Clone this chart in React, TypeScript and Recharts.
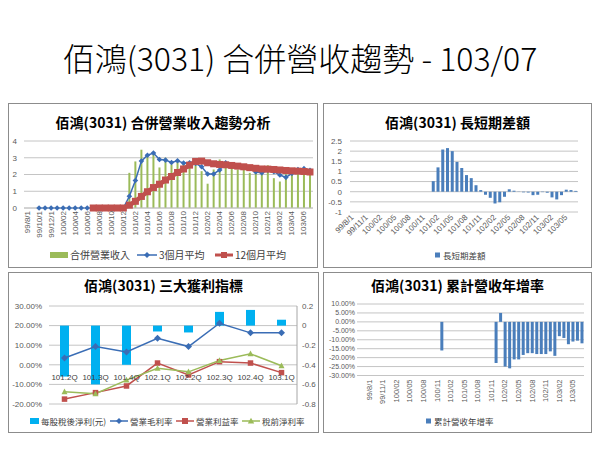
import React from "react";
import {
  ComposedChart,
  BarChart,
  Bar,
  Line,
  XAxis,
  YAxis,
  CartesianGrid,
} from "recharts";

const FONT = "'Noto Sans CJK TC', 'Noto Sans', sans-serif";
const TICK_FONT = "'Liberation Sans', 'Noto Sans CJK TC', sans-serif";

// months 99/08 .. 103/07
const months = [
  "99/8/1", "99/9/1", "99/10/1", "99/11/1", "99/12/1",
  "100/01", "100/02", "100/03", "100/04", "100/05", "100/06",
  "100/07", "100/08", "100/09", "100/10", "100/11", "100/12",
  "101/01", "101/02", "101/03", "101/04", "101/05", "101/06",
  "101/07", "101/08", "101/09", "101/10", "101/11", "101/12",
  "102/01", "102/02", "102/03", "102/04", "102/05", "102/06",
  "102/07", "102/08", "102/09", "102/10", "102/11", "102/12",
  "103/01", "103/02", "103/03", "103/04", "103/05", "103/06", "103/07",
];

// 合併營業收入 (億)
const revenue = [
  null, null, null, null, null,
  null, null, null, null, null, null,
  null, null, null, null, null, null,
  2.1, 2.78, 3.48, 3.15, 3.2, 2.42, 3.0, 2.6, 2.75, 2.65, 2.7, 2.6,
  2.2, 1.45, 2.3, 2.9, 2.72, 2.4, 2.3, 2.5, 2.1, 2.3, 2.1, 2.55,
  1.78, 1.58, 2.02, 2.35, 2.35, 2.3, 2.15,
];

// 3個月平均
const avg3 = [
  null, null, 0, 0, 0,
  0, 0, 0, 0, 0, 0,
  0, 0, 0, 0, 0, 0,
  0.7, 1.64, 2.8, 3.15, 3.28, 2.9, 2.86, 2.72, 2.82, 2.68, 2.7, 2.66,
  2.46, 2.03, 2.03, 2.27, 2.7, 2.56, 2.5, 2.46, 2.36, 2.15, 2.1, 2.26,
  2.17, 1.97, 1.83, 2.07, 2.3, 2.35, 2.25,
];

// 12個月平均
const avg12 = [
  null, null, null, null, null,
  null, null, null, null, null, null,
  0, 0, 0, 0, 0, 0,
  0.17, 0.4, 0.69, 0.97, 1.22, 1.42, 1.67, 1.88, 2.12, 2.33, 2.56, 2.78,
  2.8, 2.7, 2.64, 2.6, 2.58, 2.54, 2.5, 2.46, 2.41, 2.37, 2.33, 2.32,
  2.3, 2.27, 2.24, 2.22, 2.2, 2.18, 2.15,
];

// 長短期差額
const spread = [
  null, null, null, null, null,
  null, null, null, null, null, null,
  null, null, null, null, null, null,
  0.52, 1.2, 2.08, 2.15, 2.0, 1.47, 1.17, 0.82, 0.67, 0.32, 0.08, -0.15,
  -0.3, -0.58, -0.52, -0.25, 0.12, 0.05, 0.01, -0.03, -0.04, -0.17, -0.15, -0.02,
  -0.05, -0.28, -0.38, -0.17, 0.1, 0.08, 0.04,
];

// 累計營收年增率
const ytdGrowth = [
  null, null, null, null, null,
  null, null, null, null, null, null,
  null, null, null, null, null, -0.16,
  null, null, null, null, null, null, null, null, null, null, null, -0.23,
  0.05, -0.25, -0.26, -0.21, -0.21, -0.185, -0.175, -0.175, -0.18, -0.18, -0.18, -0.165,
  -0.19, -0.08, -0.09, -0.125, -0.11, -0.105, -0.12,
];

const quarters = ["101.2Q", "101.3Q", "101.4Q", "102.1Q", "102.2Q", "102.3Q", "102.4Q", "103.1Q"];
const eps = [-0.52, -0.6, -0.4, -0.06, -0.07, 0.14, 0.16, 0.06];
const grossMargin = [0.035, 0.093, 0.065, 0.135, 0.093, 0.212, 0.163, 0.163];
const opMargin = [-0.175, -0.142, -0.108, 0.009, -0.052, 0.016, 0.009, -0.04];
const pretaxMargin = [-0.138, -0.148, -0.078, -0.018, -0.036, 0.022, 0.056, -0.005];

const monthlyData = months.map((m, i) => ({
  m,
  revenue: revenue[i],
  avg3: avg3[i],
  avg12: avg12[i],
  spread: spread[i],
  ytd: ytdGrowth[i],
}));

const quarterData = quarters.map((q, i) => ({
  q,
  eps: eps[i],
  gross: grossMargin[i],
  op: opMargin[i],
  pretax: pretaxMargin[i],
}));

const BLUE = "#3A6DB5";
const RED = "#C0504D";
const GREEN = "#9BBB59";
const BAR_BLUE = "#4A7EBB";
const CYAN = "#00B0F0";
const GRID = "#c4c4c4";
const TICK = "#595959";

const pct = (v: number) => (v * 100).toFixed(2) + "%";

// ---- markers
const ok = (p: any) => p.cx != null && p.cy != null && !isNaN(p.cy);

const diamondDot = (color: string, r: number) => (p: any) =>
  ok(p) ? (
    <path
      key={p.index}
      d={`M${p.cx} ${p.cy - r}L${p.cx + r} ${p.cy}L${p.cx} ${p.cy + r}L${p.cx - r} ${p.cy}Z`}
      fill={color}
    />
  ) : (
    <g key={p.index} />
  );

const squareDot = (color: string, s: number) => (p: any) =>
  ok(p) ? (
    <rect key={p.index} x={p.cx - s / 2} y={p.cy - s / 2} width={s} height={s} fill={color} />
  ) : (
    <g key={p.index} />
  );

const triangleDot = (color: string, s: number) => (p: any) =>
  ok(p) ? (
    <path
      key={p.index}
      d={`M${p.cx} ${p.cy - s * 0.55}L${p.cx + s / 2} ${p.cy + s * 0.4}L${p.cx - s / 2} ${p.cy + s * 0.4}Z`}
      fill={color}
    />
  ) : (
    <g key={p.index} />
  );

// ---- ticks
const rotatedTick = (angle: number, fontSize: number) => (p: any) => (
  <text
    x={p.x}
    y={p.y}
    transform={`rotate(${angle} ${p.x} ${p.y})`}
    textAnchor="end"
    dominantBaseline="central"
    fontSize={fontSize}
    fill={TICK}
    fontFamily={TICK_FONT}
  >
    {p.payload.value}
  </text>
);

const QuarterTick = (p: any) => (
  <text
    x={p.x}
    y={p.y - 27}
    textAnchor="middle"
    dominantBaseline="central"
    fontSize={8}
    fill="#404040"
    fontFamily={TICK_FONT}
  >
    {p.payload.value}
  </text>
);

// ---- legend
type LegendItem = { x: number; label: string; w: number; icon: React.ReactNode };

function PanelLegend({ y, fontSize, items }: { y: number; fontSize: number; items: LegendItem[] }) {
  return (
    <>
      {items.map((it) => (
        <div
          key={it.label}
          style={{
            position: "absolute",
            left: it.x,
            top: y - 7,
            height: 14,
            display: "flex",
            alignItems: "center",
            fontSize,
            lineHeight: "14px",
            color: "#404040",
            whiteSpace: "nowrap",
          }}
        >
          <svg width={it.w} height={10} style={{ marginRight: 2, flex: "none" }}>
            {it.icon}
          </svg>
          <span>{it.label}</span>
        </div>
      ))}
    </>
  );
}

const lineIcon = (w: number, color: string, marker: "diamond" | "square" | "triangle", width = 1.5) => (
  <>
    <line x1={0} y1={5} x2={w} y2={5} stroke={color} strokeWidth={width} />
    {marker === "diamond" && <path d={`M${w / 2} 2L${w / 2 + 3} 5L${w / 2} 8L${w / 2 - 3} 5Z`} fill={color} />}
    {marker === "square" && <rect x={w / 2 - 3} y={2} width={6} height={6} fill={color} />}
    {marker === "triangle" && <path d={`M${w / 2} 1.8L${w / 2 + 3.2} 7.5L${w / 2 - 3.2} 7.5Z`} fill={color} />}
  </>
);

// ---- panel
function Panel({
  left,
  top,
  width,
  height,
  title,
  titleY,
  children,
}: {
  left: number;
  top: number;
  width: number;
  height: number;
  title: string;
  titleY: number;
  children: React.ReactNode;
}) {
  return (
    <div
      style={{
        position: "absolute",
        left,
        top,
        width,
        height,
        border: "1px solid #8c8c8c",
        boxSizing: "border-box",
      }}
    >
      <div style={{ position: "absolute", left: -1, top: -1, width, height }}>
        <div
          style={{
            position: "absolute",
            left: 0,
            top: titleY - 10,
            width,
            textAlign: "center",
            fontSize: 14,
            fontWeight: 700,
            lineHeight: "20px",
            color: "#000",
            whiteSpace: "nowrap",
          }}
        >
          {title}
        </div>
        {children}
      </div>
    </div>
  );
}

function RevenueTrend() {
  return (
    <>
      <ComposedChart
        width={310}
        height={165}
        data={monthlyData}
        margin={{ top: 38, right: 5, left: 0, bottom: 15 }}
        style={{ position: "absolute", left: 0, top: 0 }}
      >
        <CartesianGrid vertical={false} stroke={GRID} />
        <XAxis
          dataKey="m"
          interval={1}
          height={45}
          tickSize={0}
          tickMargin={3}
          axisLine={{ stroke: GRID }}
          tick={rotatedTick(-90, 8)}
        />
        <YAxis
          domain={[0, 4]}
          ticks={[0, 1, 2, 3, 4]}
          interval={0}
          width={16}
          tickSize={0}
          tickMargin={7}
          axisLine={false}
          tick={{ fontSize: 8, fill: TICK, fontFamily: TICK_FONT }}
        />
        <Bar dataKey="revenue" fill={GREEN} barSize={2} isAnimationActive={false} />
        <Line
          dataKey="avg3"
          stroke={BLUE}
          strokeWidth={1.5}
          dot={diamondDot(BLUE, 2.8)}
          activeDot={false}
          isAnimationActive={false}
        />
        <Line
          dataKey="avg12"
          stroke={RED}
          strokeWidth={4.5}
          dot={squareDot(RED, 7)}
          activeDot={false}
          isAnimationActive={false}
        />
      </ComposedChart>
      <PanelLegend
        y={152}
        fontSize={10}
        items={[
          { x: 42, label: "合併營業收入", w: 18, icon: <rect x={0} y={2} width={18} height={6} fill={GREEN} /> },
          { x: 129, label: "3個月平均", w: 20, icon: lineIcon(20, BLUE, "diamond") },
          { x: 207, label: "12個月平均", w: 18, icon: lineIcon(18, RED, "square", 3) },
        ]}
      />
    </>
  );
}

function SpreadChart() {
  return (
    <>
      <BarChart
        width={269}
        height={165}
        data={monthlyData}
        margin={{ top: 38, right: 14, left: 0, bottom: 26 }}
        style={{ position: "absolute", left: 0, top: 0 }}
      >
        <CartesianGrid vertical={false} stroke={GRID} />
        <XAxis
          dataKey="m"
          interval={2}
          height={30}
          tickSize={0}
          tickMargin={4}
          axisLine={false}
          tick={rotatedTick(-45, 8)}
        />
        <YAxis
          domain={[-1, 2.5]}
          ticks={[-1, -0.5, 0, 0.5, 1, 1.5, 2, 2.5]}
          interval={0}
          width={27}
          tickSize={0}
          tickMargin={8}
          axisLine={false}
          tick={{ fontSize: 8, fill: TICK, fontFamily: TICK_FONT }}
        />
        <Bar dataKey="spread" fill={BAR_BLUE} barSize={3} isAnimationActive={false} />
      </BarChart>
      <PanelLegend
        y={152}
        fontSize={8.5}
        items={[{ x: 112, label: "長短期差額", w: 6, icon: <rect x={0} y={2.5} width={5} height={5} fill={BAR_BLUE} /> }]}
      />
    </>
  );
}

function ProfitChart() {
  return (
    <>
      <ComposedChart
        width={311}
        height={161}
        data={quarterData}
        margin={{ top: 34, right: 0, left: 0, bottom: 9 }}
        style={{ position: "absolute", left: 0, top: 0 }}
      >
        <CartesianGrid vertical={false} stroke={GRID} yAxisId="left" />
        <XAxis
          dataKey="q"
          height={20}
          interval={0}
          tickSize={0}
          tickMargin={0}
          axisLine={false}
          tick={QuarterTick}
        />
        <YAxis
          yAxisId="left"
          domain={[-0.2, 0.3]}
          ticks={[-0.2, -0.1, 0, 0.1, 0.2, 0.3]}
          interval={0}
          tickFormatter={pct}
          width={41}
          tickSize={0}
          tickMargin={7}
          axisLine={false}
          tick={{ fontSize: 8, fill: TICK, fontFamily: TICK_FONT }}
        />
        <YAxis
          yAxisId="right"
          orientation="right"
          domain={[-0.8, 0.2]}
          ticks={[-0.8, -0.6, -0.4, -0.2, 0, 0.2]}
          interval={0}
          width={22}
          tickSize={0}
          tickMargin={5}
          axisLine={{ stroke: "#a6a6a6" }}
          tick={{ fontSize: 8, fill: TICK, fontFamily: TICK_FONT }}
        />
        <Bar yAxisId="right" dataKey="eps" fill={CYAN} barSize={9} isAnimationActive={false} />
        <Line
          yAxisId="left"
          dataKey="gross"
          stroke={BLUE}
          strokeWidth={1.5}
          dot={diamondDot(BLUE, 3.5)}
          activeDot={false}
          isAnimationActive={false}
        />
        <Line
          yAxisId="left"
          dataKey="op"
          stroke={RED}
          strokeWidth={1.5}
          dot={squareDot(RED, 5.5)}
          activeDot={false}
          isAnimationActive={false}
        />
        <Line
          yAxisId="left"
          dataKey="pretax"
          stroke={GREEN}
          strokeWidth={1.5}
          dot={triangleDot(GREEN, 6)}
          activeDot={false}
          isAnimationActive={false}
        />
      </ComposedChart>
      <PanelLegend
        y={149}
        fontSize={8.5}
        items={[
          { x: 22, label: "每股稅後淨利(元)", w: 9, icon: <rect x={0} y={2} width={9} height={6} fill={CYAN} /> },
          { x: 102, label: "營業毛利率", w: 18, icon: lineIcon(18, BLUE, "diamond") },
          { x: 168, label: "營業利益率", w: 18, icon: lineIcon(18, RED, "square") },
          { x: 234, label: "稅前淨利率", w: 18, icon: lineIcon(18, GREEN, "triangle") },
        ]}
      />
    </>
  );
}

function GrowthChart() {
  return (
    <>
      <BarChart
        width={269}
        height={161}
        data={monthlyData}
        margin={{ top: 32, right: 8, left: 0, bottom: 25.5 }}
        style={{ position: "absolute", left: 0, top: 0 }}
      >
        <CartesianGrid vertical={false} stroke={GRID} />
        <XAxis
          dataKey="m"
          interval={2}
          height={32}
          tickSize={0}
          tickMargin={4}
          axisLine={false}
          padding={{ left: 10, right: 0 }}
          tick={rotatedTick(-90, 7.5)}
        />
        <YAxis
          domain={[-0.3, 0.1]}
          ticks={[-0.3, -0.25, -0.2, -0.15, -0.1, -0.05, 0, 0.05, 0.1]}
          interval={0}
          tickFormatter={pct}
          width={34}
          tickSize={0}
          tickMargin={2}
          axisLine={false}
          tick={{ fontSize: 7, fill: TICK, fontFamily: TICK_FONT }}
        />
        <Bar dataKey="ytd" fill={BAR_BLUE} barSize={3} isAnimationActive={false} />
      </BarChart>
      <PanelLegend
        y={149}
        fontSize={8.5}
        items={[{ x: 103, label: "累計營收年增率", w: 6, icon: <rect x={0} y={2.5} width={5} height={5} fill={BAR_BLUE} /> }]}
      />
    </>
  );
}

export default function App() {
  return (
    <div
      style={{
        position: "absolute",
        left: 0,
        top: 0,
        width: 600,
        height: 450,
        background: "#fff",
        fontFamily: FONT,
        overflow: "hidden",
      }}
    >
      <div
        style={{
          position: "absolute",
          left: 0,
          top: 38,
          width: 600,
          textAlign: "center",
          fontSize: 32,
          lineHeight: "38px",
          fontWeight: 300,
          color: "#000",
          whiteSpace: "nowrap",
        }}
      >
        佰鴻(3031) 合併營收趨勢 - 103/07
      </div>
      <Panel left={8} top={103} width={310} height={165} title="佰鴻(3031) 合併營業收入趨勢分析" titleY={19}>
        <RevenueTrend />
      </Panel>
      <Panel left={323} top={103} width={269} height={165} title="佰鴻(3031) 長短期差額" titleY={19}>
        <SpreadChart />
      </Panel>
      <Panel left={8} top={272} width={311} height={161} title="佰鴻(3031) 三大獲利指標" titleY={13}>
        <ProfitChart />
      </Panel>
      <Panel left={323} top={272} width={269} height={161} title="佰鴻(3031) 累計營收年增率" titleY={13}>
        <GrowthChart />
      </Panel>
    </div>
  );
}
